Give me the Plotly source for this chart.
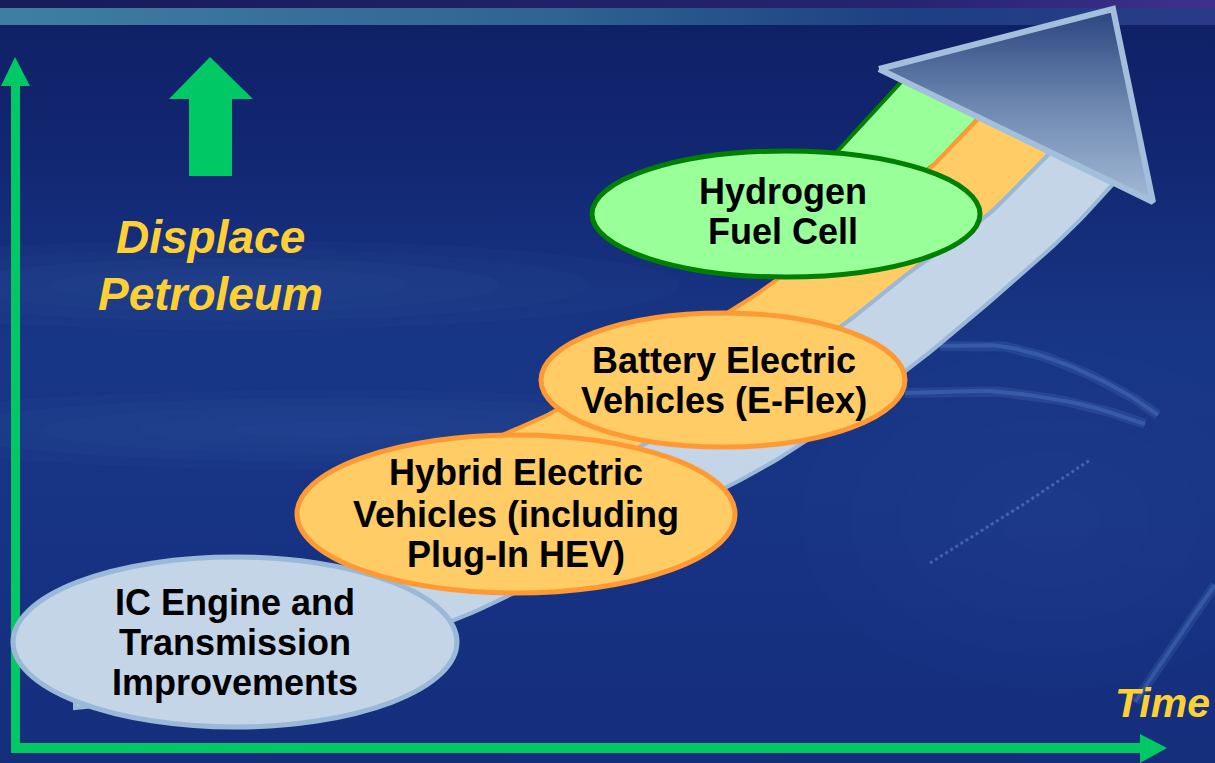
import math
import plotly.graph_objects as go

# ----------------------------------
# Text content
stage_labels = [
    ["IC Engine and", "Transmission", "Improvements"],
    ["Hybrid Electric", "Vehicles (including", "Plug-In HEV)"],
    ["Battery Electric", "Vehicles (E-Flex)"],
    ["Hydrogen", "Fuel Cell"],
]
y_axis_label = ["Displace", "Petroleum"]
x_axis_label = "Time"

# ----------------------------------
# Bubble layout (pixel coords, y pointing down)
bubble_cx = [235, 516, 723, 786]
bubble_cy = [642, 514, 380, 214]
bubble_rx = [222, 219, 182, 194]
bubble_ry = [85, 79, 67, 63]
bubble_fill = ["#c3d5e7", "#ffcc66", "#ffcc66", "#99ff99"]
bubble_edge = ["#9ab8d8", "#ff9933", "#ff9933", "#008000"]
text_x = [235, 516, 724, 783]
text_y = [[602, 642, 682], [472, 514, 554], [360, 400], [191, 231]]

# Boundaries of the rising ribbon (top end first)
edge_green_top = [(903, 80), (870, 115), (837, 152), (805, 182), (785, 198)]
edge_green_orange = [(980, 117), (955, 143), (930, 168), (860, 219), (777, 280),
                     (727, 313), (640, 362), (557, 410), (507, 433), (420, 470)]
edge_orange_blue = [(1050, 153), (990, 213), (915, 268), (840, 327), (745, 384),
                    (647, 443), (550, 492), (450, 540), (300, 605), (150, 650), (75, 668)]
edge_blue_bottom = [(1113, 184), (1067, 233), (1000, 293), (907, 370), (800, 445),
                    (727, 487), (590, 555), (450, 622), (300, 670), (150, 700), (75, 708)]

# faint streaks in the background photo
streaks = [
    [(940, 346), (1000, 346), (1060, 362), (1120, 390), (1158, 415)],
    [(905, 393), (990, 391), (1080, 404), (1145, 424)],
    [(1135, 702), (1175, 642), (1215, 585)],
]
dotted_streak = [(930, 563), (1010, 513), (1090, 460)]

GREEN = "#00c864"
YELLOW = "#ffd033"
FONT = "Liberation Sans, Arial, sans-serif"


def smooth(pts, n=14):
    # catmull-rom through the points, sampled as cubic beziers
    out = []
    for i in range(len(pts) - 1):
        p0 = pts[i - 1] if i > 0 else pts[i]
        p1, p2 = pts[i], pts[i + 1]
        p3 = pts[i + 2] if i + 2 < len(pts) else pts[i + 1]
        c1 = (p1[0] + (p2[0] - p0[0]) / 6, p1[1] + (p2[1] - p0[1]) / 6)
        c2 = (p2[0] - (p3[0] - p1[0]) / 6, p2[1] - (p3[1] - p1[1]) / 6)
        for k in range(n):
            t = k / n
            a, b, c, d = (1 - t) ** 3, 3 * (1 - t) ** 2 * t, 3 * (1 - t) * t ** 2, t ** 3
            out.append((a * p1[0] + b * c1[0] + c * c2[0] + d * p2[0],
                        a * p1[1] + b * c1[1] + c * c2[1] + d * p2[1]))
    out.append(pts[-1])
    return out


def strip(upper, lower, fill, edge):
    pts = smooth(upper) + smooth(lower)[::-1]
    pts.append(pts[0])
    return go.Scatter(x=[p[0] for p in pts], y=[p[1] for p in pts], mode="lines",
                      fill="toself", fillcolor=fill, line=dict(color=edge, width=4),
                      hoverinfo="skip")


def curve(pts, color, width, dash="solid"):
    pts = smooth(pts)
    return go.Scatter(x=[p[0] for p in pts], y=[p[1] for p in pts], mode="lines",
                      line=dict(color=color, width=width, dash=dash), hoverinfo="skip")


def poly(xs, ys, color):
    return go.Scatter(x=xs + [xs[0]], y=ys + [ys[0]], mode="lines", fill="toself",
                      fillcolor=color, line=dict(color=color, width=0), hoverinfo="skip")


def haze(cx, cy, rx, ry, rgb, steps=5, alpha=0.035):
    # stacked soft ellipses to fake a blurred highlight
    out = []
    for s in range(steps):
        f = 1 - s / steps
        xs, ys = [], []
        for k in range(73):
            a = 2 * math.pi * k / 72
            xs.append(cx + rx * f * math.cos(a))
            ys.append(cy + ry * f * math.sin(a))
        out.append(go.Scatter(x=xs, y=ys, mode="lines", fill="toself",
                              fillcolor=f"rgba({rgb},{alpha})", line=dict(width=0),
                              hoverinfo="skip"))
    return out


fig = go.Figure()

# background
fig.add_trace(go.Scatter(x=[0, 1215, 1215, 0, 0], y=[0, 0, 763, 763, 0], mode="lines",
                         fill="toself", line=dict(width=0), hoverinfo="skip",
                         fillgradient=dict(type="vertical", start=0, stop=763,
                                           colorscale=[[0, "#0f2064"], [0.15, "#11246e"],
                                                       [0.45, "#183686"], [0.75, "#173283"],
                                                       [1, "#152e7c"]])))
for t in haze(230, 285, 450, 45, "90,140,200"):
    fig.add_trace(t)
for t in haze(330, 430, 480, 40, "80,130,200"):
    fig.add_trace(t)
for t in haze(1050, 520, 250, 170, "60,110,190", alpha=0.03):
    fig.add_trace(t)
for s in streaks:
    fig.add_trace(curve(s, "rgba(110,160,225,0.14)", 10))
    fig.add_trace(curve(s, "rgba(120,170,230,0.22)", 4))
fig.add_trace(curve(dotted_streak, "rgba(140,180,235,0.35)", 3, dash="dot"))

fig.add_trace(go.Scatter(x=[0, 1215, 1215, 0, 0], y=[0, 0, 8, 8, 0], mode="lines",
                         fill="toself", line=dict(width=0), hoverinfo="skip",
                         fillgradient=dict(type="horizontal", start=0, stop=1215,
                                           colorscale=[[0, "#161c5a"], [0.75, "#262470"],
                                                       [1, "#40308f"]])))
fig.add_trace(go.Scatter(x=[0, 1215, 1215, 0, 0], y=[8, 8, 25, 25, 8], mode="lines",
                         fill="toself", line=dict(width=0), hoverinfo="skip",
                         fillgradient=dict(type="horizontal", start=0, stop=1215,
                                           colorscale=[[0, "#3f7ea2"], [0.45, "#2f6492"],
                                                       [0.75, "#1d3f82"], [1, "#2a3a88"]])))

# axes arrows and the "displace" arrow
fig.add_trace(poly([11, 11, 1, 15, 30, 20, 20], [752, 86, 86, 57, 86, 86, 752], GREEN))
fig.add_trace(poly([11, 1140, 1140, 1167, 1140, 1140, 11],
                   [743, 743, 734, 748, 763, 753, 753], GREEN))
fig.add_trace(poly([189, 189, 169, 210, 253, 232, 232], [176, 99, 99, 57, 99, 99, 176], GREEN))

# ribbon strips (lower strips drawn on top)
fig.add_trace(strip(edge_green_top, edge_green_orange[:4], "#99ff99", "#008000"))
fig.add_trace(strip(edge_green_orange, edge_orange_blue[:8], "#ffcc66", "#ff9933"))
fig.add_trace(strip(edge_orange_blue, edge_blue_bottom, "#c3d5e7", "#9ab8d8"))

# arrow head
fig.add_trace(go.Scatter(x=[879, 1113, 1153, 879], y=[69, 9, 202, 69], mode="lines",
                         fill="toself", line=dict(color="#a3bfdc", width=6), hoverinfo="skip",
                         fillgradient=dict(type="vertical", start=10, stop=200,
                                           colorscale=[[0, "#2b4580"], [0.5, "#6d87b0"],
                                                       [1, "#a2b9d4"]])))

# bubbles
for cx, cy, rx, ry, f, e in zip(bubble_cx, bubble_cy, bubble_rx, bubble_ry, bubble_fill, bubble_edge):
    fig.add_shape(type="circle", xref="x", yref="y", x0=cx - rx, x1=cx + rx, y0=cy - ry, y1=cy + ry,
                  fillcolor=f, line=dict(color=e, width=5), layer="above")

# bubble text, one annotation per line to keep the tight leading
for lines, tx, tys in zip(stage_labels, text_x, text_y):
    for line, ty in zip(lines, tys):
        fig.add_annotation(x=tx, y=ty, text=line, showarrow=False, xanchor="center", yanchor="middle",
                           font=dict(family=FONT, size=36, color="black", weight="bold"))

for line, ty in zip(y_axis_label, [237, 294]):
    fig.add_annotation(x=210, y=ty, text=line, showarrow=False, xanchor="center", yanchor="middle",
                       font=dict(family=FONT, size=46, color=YELLOW, weight="bold", style="italic"))
fig.add_annotation(x=1162, y=703, text=x_axis_label, showarrow=False, xanchor="center", yanchor="middle",
                   font=dict(family=FONT, size=41, color=YELLOW, weight="bold", style="italic"))

fig.update_layout(width=1215, height=763, margin=dict(l=0, r=0, t=0, b=0),
                  paper_bgcolor="#142c78", plot_bgcolor="#142c78",
                  showlegend=False, hovermode=False,
                  xaxis=dict(range=[0, 1215], visible=False, fixedrange=True),
                  yaxis=dict(range=[763, 0], visible=False, fixedrange=True))

# page body has a default margin; drop it so the figure fills the window
fig.write_html("out.html", config={"displayModeBar": False},
               post_script="document.body.style.margin='0';document.body.style.overflow='hidden';")
